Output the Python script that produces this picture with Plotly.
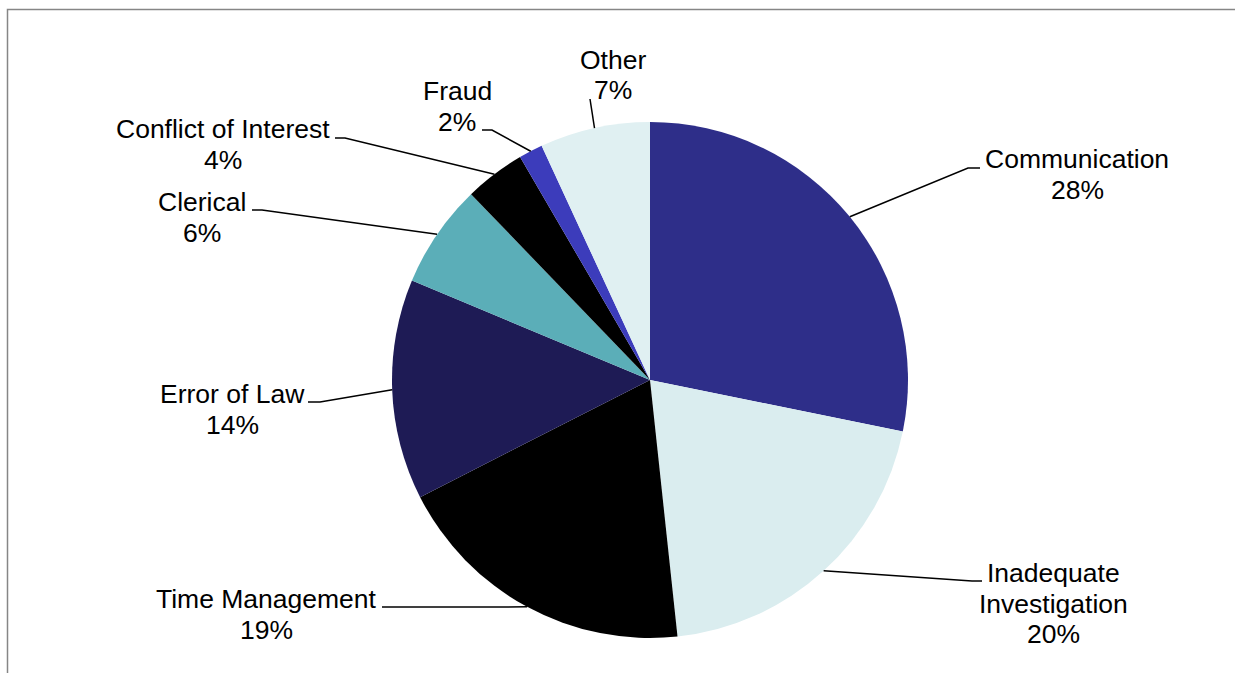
import math
import plotly.graph_objects as go

# ---- data ----
categories = ["Communication", "Inadequate<br>Investigation", "Time Management",
              "Error of Law", "Clerical", "Conflict of Interest", "Fraud", "Other"]
values = [28.2, 20.1, 19.2, 13.8, 6.5, 3.8, 1.5, 6.9]
percent_labels = ["28%", "20%", "19%", "14%", "6%", "4%", "2%", "7%"]
colors = ["#2E2E89", "#DAEDEF", "#000000", "#1E1B55", "#5BAEB8", "#000000", "#3C3CBB", "#E0F0F2"]

# ---- layout (pixel positions) ----
W, H = 1235, 673
CX, CY, R = 650, 380, 258
# elbow point, label-end point of leader line, label centre x, first text line y
label_layout = [
    ((968, 168), (980, 168), 1077, 159),
    ((972, 581), (982, 581), 1053, 573),
    ((382, 607), (382, 607), 266, 599),
    ((320, 402), (308, 402), 232, 394),
    ((262, 210), (252, 210), 202, 202),
    ((345, 138), (335, 138), 223, 129),
    ((492, 130), (482, 130), 457, 91),
    ((590, 99), (590, 99), 613, 60),
]
LINE_GAP = 30.5
FONT = dict(family="Liberation Sans, Arial, sans-serif", size=26.5, color="#000000")


def px(x):
    return x / W


def py(y):
    return 1 - y / H


fig = go.Figure(go.Pie(
    labels=categories,
    values=values,
    sort=False,
    direction="clockwise",
    rotation=0,
    marker=dict(colors=colors, line=dict(width=0)),
    textinfo="none",
    hoverinfo="label+percent",
    domain=dict(x=[px(CX - R), px(CX + R)], y=[py(CY + R), py(CY - R)]),
    showlegend=False,
))

shapes = []
annotations = []
total = sum(values)
cum = 0.0
for i, v in enumerate(values):
    mid = (cum + v / 2) / total * 2 * math.pi
    cum += v
    sx = CX + R * math.sin(mid)
    sy = CY - R * math.cos(mid)
    (ex, ey), (lx, ly), tx, ty = label_layout[i]
    path = f"M {px(sx)} {py(sy)} L {px(ex)} {py(ey)} L {px(lx)} {py(ly)}"
    shapes.append(dict(type="path", xref="paper", yref="paper", path=path,
                       line=dict(color="#000000", width=1.5)))
    lines = categories[i].split("<br>") + [percent_labels[i]]
    for k, t in enumerate(lines):
        annotations.append(dict(x=px(tx), y=py(ty + k * LINE_GAP), xref="paper", yref="paper",
                                text=t, showarrow=False, xanchor="center", yanchor="middle",
                                font=FONT))

# chart-area border (top and left edges)
shapes.append(dict(type="path", xref="paper", yref="paper",
                   path=f"M {px(7.5)} 0 L {px(7.5)} {py(9.5)} L 1 {py(9.5)}",
                   line=dict(color="#868686", width=1.5)))

fig.update_layout(
    width=W, height=H,
    margin=dict(l=0, r=0, t=0, b=0),
    paper_bgcolor="#FFFFFF",
    plot_bgcolor="#FFFFFF",
    shapes=shapes,
    annotations=annotations,
)

fig.write_html("out.html", config={"displayModeBar": False},
               post_script="document.body.style.margin='0';")
